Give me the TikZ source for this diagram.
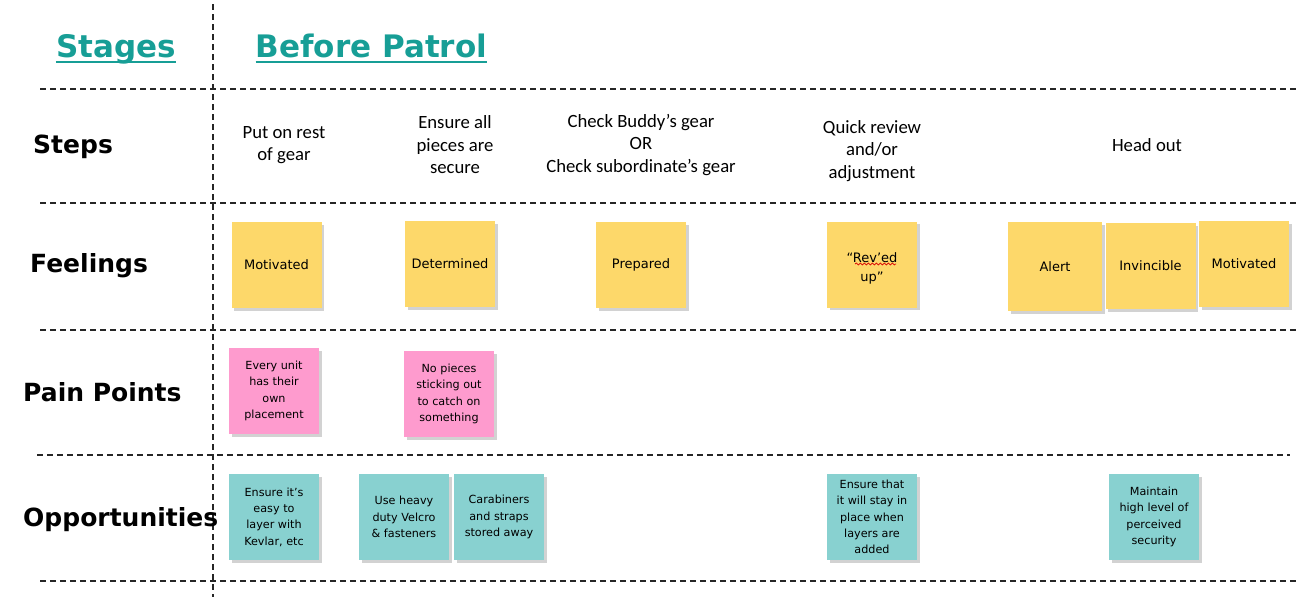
\documentclass[tikz,border=0pt]{standalone}
\usepackage{fontspec}
\newfontfamily\hdrfont{DejaVu Sans}
\newfontfamily\stepfont{Carlito}
\newfontfamily\notefont{DejaVu Sans}
\usetikzlibrary{shadows,decorations.pathmorphing}
\definecolor{hdrteal}{RGB}{23,158,150}
\definecolor{noteyellow}{RGB}{253,216,106}
\definecolor{notepink}{RGB}{254,155,206}
\definecolor{noteteal}{RGB}{136,209,208}
\begin{document}
\begin{tikzpicture}[x=1pt,y=-1pt,
  gridline/.style={dash pattern=on 6pt off 4pt, line width=1.3pt, black!85},
  hdr/.style={inner sep=0pt, anchor=base, text=hdrteal, font=\hdrfont\bfseries\fontsize{31}{36}\selectfont},
  rowlabel/.style={inner sep=0pt, anchor=base west, font=\hdrfont\bfseries\fontsize{25}{28}\selectfont},
  steptext/.style={inner sep=0pt, align=center, font=\stepfont\fontsize{18.7}{22.5}\selectfont},
  notetext/.style={inner sep=0pt, align=center, font=\notefont\fontsize{13}{19}\selectfont},
  sticky/.style={minimum width=90pt, minimum height=86pt, inner sep=0pt, align=center,
    font=\notefont\fontsize{13}{19}\selectfont,
    drop shadow={shadow xshift=2.5pt, shadow yshift=-2.5pt, opacity=0.25, fill=black!70}},
  small/.style={font=\notefont\fontsize{11.2}{16.3}\selectfont},
  yel/.style={sticky, fill=noteyellow},
  pnk/.style={sticky, small, fill=notepink},
  tel/.style={sticky, small, fill=noteteal}
]
\useasboundingbox[fill=white] (0,0) rectangle (1300,597);

% grid
\draw[gridline] (213,4) -- (213,597);
\draw[gridline] (40,89) -- (1296,89);
\draw[gridline] (40,203) -- (1296,203);
\draw[gridline] (40,330) -- (1296,330);
\draw[gridline] (37,455) -- (1290,455);
\draw[gridline] (40,581) -- (1296,581);

% headers
\node[hdr] (stages) at (116,57) {Stages};
\node[hdr] (before) at (371.5,57) {Before Patrol};
\draw[hdrteal, line width=2pt] ([yshift=-5pt]stages.base west) -- ([yshift=-5pt]stages.base east);
\draw[hdrteal, line width=2pt] ([yshift=-5pt]before.base west) -- ([yshift=-5pt]before.base east);

% row labels
\node[rowlabel] (lsteps) at (33,153) {Steps};
\node[rowlabel] (lfeel) at (30,272) {Feelings};
\node[rowlabel] (lpain) at (23,401) {Pain Points};
\node[rowlabel] (lopp) at (23,526) {Opportunities};

% steps
\node[steptext] (s1) at (284,145) {Put on rest\\of gear};
\node[steptext] (s2) at (455,145) {Ensure all\\pieces are\\secure};
\node[steptext] (s3) at (641,145) {Check Buddy’s gear\\OR\\Check subordinate’s gear};
\node[steptext] (s4) at (872,151) {Quick review\\and/or\\adjustment};
\node[steptext] (s5) at (1147,145) {Head out};

% feelings
\node[yel] (f1) at (276.5,265) {Motivated};
\node[yel] (f2) at (450,264) {Determined};
\node[yel] (f3) at (641,265) {Prepared};
\node[yel] (f4) at (872,264.5) {};
\node[notetext] (f4t) at (872,268) {“Rev’ed\\up”};
\node[yel, minimum width=94pt, minimum height=89pt] (f5) at (1055,266.5) {Alert};
\node[yel] (f6) at (1150.5,266) {Invincible};
\node[yel] (f7) at (1244,264) {Motivated};
\draw[red!85!black, line width=0.7pt, decorate, decoration={snake, amplitude=1pt, segment length=4pt}]
  (855,264) -- (896,264);

% pain points
\node[pnk] (p1) at (274,391) {Every unit\\has their\\own\\placement};
\node[pnk] (p2) at (449,394) {No pieces\\sticking out\\to catch on\\something};

% opportunities
\node[tel] (o1) at (274,517) {Ensure it’s\\easy to\\layer with\\Kevlar, etc};
\node[tel] (o2) at (404,517) {Use heavy\\duty Velcro\\\& fasteners};
\node[tel] (o3) at (499,517) {Carabiners\\and straps\\stored away};
\node[tel] (o4) at (872,517) {Ensure that\\it will stay in\\place when\\layers are\\added};
\node[tel] (o5) at (1154,517) {Maintain\\high level of\\perceived\\security};
\end{tikzpicture}
\end{document}
